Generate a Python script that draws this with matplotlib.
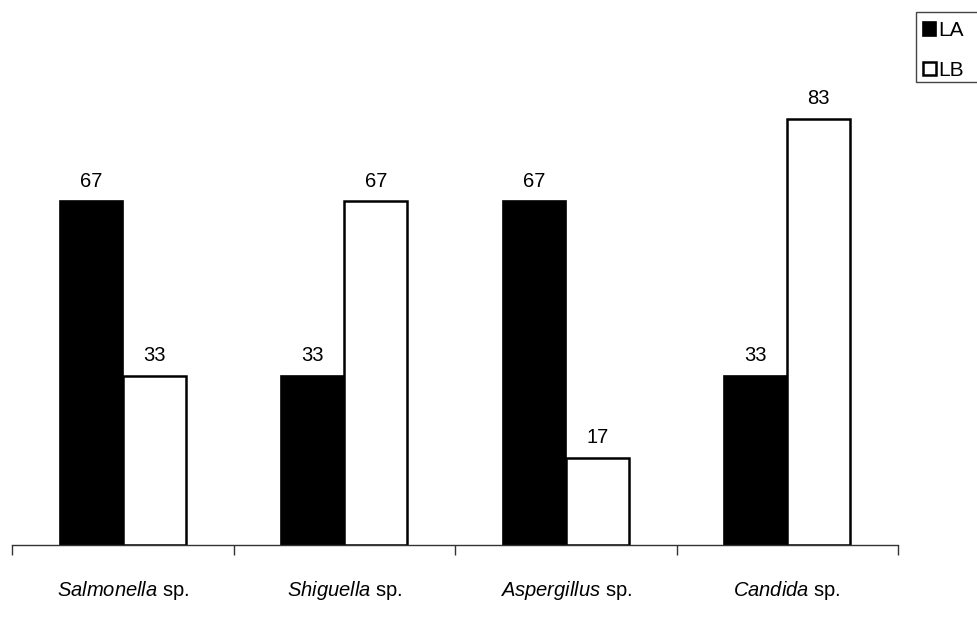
import matplotlib
matplotlib.use("Agg")
import matplotlib.pyplot as plt
from matplotlib.patches import Rectangle
import numpy as np

plt.rcParams['font.family'] = ['Liberation Sans', 'DejaVu Sans']
plt.rcParams['mathtext.fontset'] = 'custom'
plt.rcParams['mathtext.it'] = 'Liberation Sans:italic'
plt.rcParams['mathtext.rm'] = 'Liberation Sans'

genera = ["Salmonella", "Shiguella", "Aspergillus", "Candida"]
series_names = ["LA", "LB"]
la_values = [67, 33, 67, 33]
lb_values = [33, 67, 17, 83]

W, H = 978, 631
fig = plt.figure(figsize=(W / 100, H / 100), dpi=100)
ax = fig.add_axes([12 / W, 86 / H, (898 - 12) / W, 513 / H])

x = np.arange(len(genera))
bw = 0.285
b1 = ax.bar(x - bw / 2, la_values, bw, color='black', edgecolor='black', linewidth=1.2, label=series_names[0])
b2 = ax.bar(x + bw / 2, lb_values, bw, color='white', edgecolor='black', linewidth=1.8, label=series_names[1])

for bars, vals in ((b1, la_values), (b2, lb_values)):
    for r, v in zip(bars, vals):
        ax.text(r.get_x() + r.get_width() / 2, v + 2.1, str(v), ha='center', va='bottom', fontsize=14.5)

ax.set_xlim(-0.5, len(genera) - 0.5)
ax.set_ylim(0, 100)
for s in ('top', 'right', 'left'):
    ax.spines[s].set_visible(False)
ax.spines['bottom'].set_linewidth(1.0)
ax.spines['bottom'].set_color('#333333')
ax.set_yticks([])
ax.set_xticks(np.arange(-0.5, len(genera), 1.0))
ax.set_xticklabels([])
ax.tick_params(axis='x', length=7, width=1.0, color='#333333', direction='out')

for i, g in enumerate(genera):
    ax.text(i, -8.8, r"$\it{" + g + "}$ sp.", ha='center', va='center', fontsize=14.5,
            transform=ax.transData, clip_on=False)

# legend frame extending past the right edge
fig.patches.append(Rectangle((916 / W, 1 - 82 / H), 80 / W, 70 / H, transform=fig.transFigure,
                             facecolor='white', edgecolor='#444444', linewidth=1.0, zorder=0))
leg = fig.legend(loc='upper left', bbox_to_anchor=(919 / W, 1 - 17 / H), frameon=False,
                 fontsize=15, handlelength=0.62, handleheight=0.62, handletextpad=0.12,
                 borderpad=0.2, labelspacing=1.0, borderaxespad=0)

fig.savefig("out.png", dpi=100)
